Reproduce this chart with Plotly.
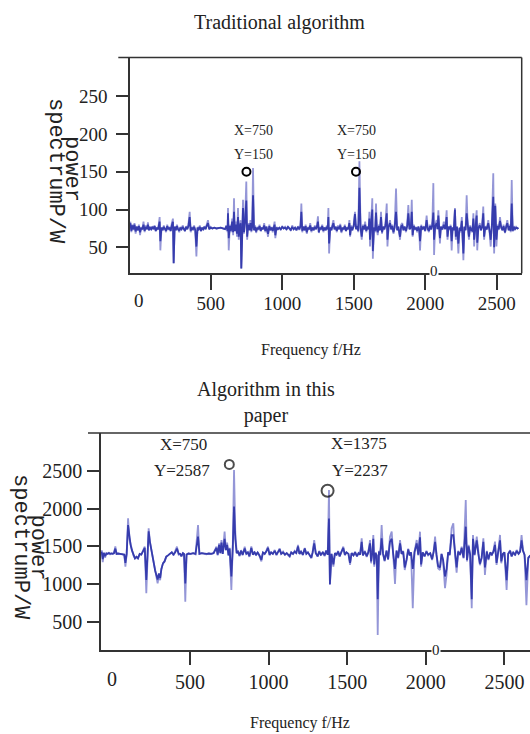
import plotly.graph_objects as go

# ---------------- data: traditional algorithm ----------------
trad_freq = [
    -62, -55, -48, -40, -33, -25, -18, -10, -2, 6, 14, 22, 30, 38, 46, 54, 61, 68, 76, 84,
    92, 100, 108, 116, 124, 132, 143, 148, 156, 164, 172, 180, 188, 196, 204, 212, 220, 228, 236, 241,
    248, 256, 264, 272, 280, 288, 296, 304, 312, 320, 328, 336, 344, 353, 360, 368, 376, 384, 392, 400,
    408, 416, 424, 432, 440, 448, 456, 464, 472, 481, 490, 500, 512, 525, 540, 555, 570, 585, 600, 610,
    618, 621, 626, 634, 642, 650, 657, 663, 668, 676, 684, 691, 696, 703, 709, 714, 720, 726, 733, 741,
    749, 755, 762, 770, 778, 784, 790, 796, 803, 810, 818, 826, 834, 842, 850, 858, 866, 874, 882, 890,
    901, 910, 918, 926, 934, 941, 947, 952, 960, 970, 980, 990, 1000, 1010, 1020, 1030, 1040, 1050, 1060, 1070,
    1080, 1090, 1100, 1110, 1120, 1128, 1134, 1140, 1148, 1156, 1164, 1172, 1180, 1188, 1196, 1204, 1212, 1220, 1228, 1236,
    1244, 1250, 1256, 1264, 1272, 1280, 1288, 1296, 1304, 1312, 1318, 1323, 1328, 1336, 1344, 1351, 1358, 1366, 1374, 1382,
    1390, 1398, 1406, 1414, 1422, 1430, 1438, 1446, 1454, 1462, 1470, 1475, 1482, 1490, 1500, 1509, 1516, 1524, 1532, 1540,
    1548, 1556, 1564, 1572, 1580, 1588, 1596, 1604, 1610, 1614, 1622, 1630, 1634, 1642, 1650, 1656, 1662, 1668, 1676, 1684,
    1691, 1698, 1706, 1714, 1722, 1731, 1736, 1744, 1754, 1762, 1770, 1778, 1786, 1796, 1804, 1812, 1824, 1832, 1840, 1848,
    1856, 1866, 1874, 1882, 1890, 1899, 1906, 1912, 1920, 1928, 1936, 1944, 1952, 1958, 1964, 1972, 1980, 1990, 2000, 2010,
    2018, 2026, 2034, 2042, 2050, 2057, 2062, 2070, 2080, 2086, 2092, 2098, 2103, 2110, 2120, 2130, 2140, 2150, 2156, 2164,
    2172, 2178, 2185, 2192, 2200, 2208, 2214, 2222, 2232, 2240, 2248, 2256, 2267, 2274, 2282, 2290, 2298, 2306, 2314, 2322,
    2330, 2337, 2342, 2350, 2360, 2364, 2372, 2382, 2390, 2398, 2406, 2412, 2420, 2430, 2441, 2450, 2458, 2466, 2476, 2482,
    2490, 2498, 2506, 2514, 2523, 2532, 2540, 2548, 2558, 2566, 2574, 2584, 2592, 2598, 2605, 2612, 2620, 2628, 2636, 2645,
    2652,
]
# full extent of each sample (light trace)
trad_peak = [
    84, 70, 80, 73, 82, 68, 78, 72, 80, 66, 77, 73, 84, 70, 79, 74, 83, 72, 77, 73,
    78, 74, 79, 71, 76, 73, 90, 46, 76, 72, 79, 74, 70, 80, 73, 77, 71, 82, 88, 29,
    78, 72, 80, 74, 70, 77, 73, 79, 75, 71, 78, 74, 80, 97, 70, 77, 73, 79, 72, 38,
    77, 73, 79, 71, 76, 73, 78, 74, 80, 86, 74, 77, 75, 76, 75, 76, 76, 75, 74, 79,
    70, 102, 46, 80, 70, 88, 66, 115, 71, 84, 64, 102, 60, 80, 86, 22, 86, 113, 68, 90,
    137, 60, 82, 72, 86, 70, 78, 155, 72, 79, 69, 77, 73, 80, 71, 76, 74, 82, 70, 78,
    64, 80, 72, 77, 70, 76, 84, 62, 77, 74, 76, 73, 78, 75, 77, 73, 78, 75, 72, 79,
    74, 76, 72, 78, 73, 80, 108, 70, 78, 72, 80, 68, 77, 73, 82, 70, 76, 72, 79, 74,
    80, 91, 69, 77, 73, 80, 70, 76, 72, 79, 74, 102, 42, 77, 72, 80, 86, 73, 78, 70,
    79, 74, 81, 69, 76, 73, 80, 71, 77, 74, 86, 64, 79, 72, 80, 97, 74, 80, 70, 164,
    76, 60, 80, 73, 84, 70, 78, 74, 97, 51, 80, 115, 35, 77, 70, 108, 74, 66, 80, 72,
    97, 68, 78, 73, 82, 108, 51, 78, 86, 73, 80, 68, 77, 128, 72, 78, 60, 80, 82, 72,
    78, 70, 80, 106, 74, 76, 113, 64, 80, 73, 77, 70, 78, 74, 46, 80, 73, 78, 71, 92,
    74, 70, 80, 73, 84, 135, 40, 80, 86, 74, 99, 70, 55, 78, 73, 84, 74, 99, 60, 78,
    73, 80, 46, 77, 72, 102, 60, 78, 42, 76, 70, 90, 33, 78, 72, 119, 74, 60, 79, 72,
    70, 95, 51, 78, 99, 46, 77, 82, 72, 79, 104, 60, 78, 73, 86, 70, 51, 80, 148, 42,
    108, 51, 80, 73, 90, 76, 72, 80, 69, 78, 86, 72, 80, 70, 139, 71, 78, 74, 77, 75,
    76,
]
# dense core of each sample (dark trace)
trad_core = [
    82, 72, 79, 74, 80, 71, 77, 73, 78, 70, 76, 74, 80, 72, 77, 74, 80, 73, 76, 74,
    77, 74, 78, 72, 76, 74, 84, 58, 76, 73, 77, 74, 72, 78, 74, 76, 72, 79, 84, 29,
    77, 73, 78, 74, 72, 76, 74, 77, 75, 72, 77, 74, 78, 90, 72, 76, 74, 77, 73, 51,
    76, 74, 77, 72, 76, 74, 77, 74, 78, 82, 74, 76, 75, 76, 75, 76, 76, 75, 74, 78,
    72, 95, 62, 78, 72, 84, 70, 97, 72, 80, 68, 90, 64, 78, 82, 22, 82, 102, 70, 84,
    112, 64, 80, 73, 82, 72, 77, 119, 73, 77, 71, 76, 74, 78, 72, 76, 74, 79, 72, 77,
    68, 78, 73, 76, 72, 76, 80, 66, 76, 74, 76, 74, 77, 75, 76, 74, 77, 75, 73, 77,
    74, 76, 73, 77, 74, 78, 97, 72, 77, 73, 78, 70, 76, 74, 79, 72, 76, 73, 77, 74,
    78, 84, 70, 76, 74, 78, 72, 76, 73, 77, 74, 90, 55, 76, 73, 78, 82, 74, 77, 72,
    77, 74, 79, 71, 76, 74, 78, 72, 76, 74, 82, 66, 77, 73, 78, 94, 74, 78, 72, 129,
    76, 64, 78, 74, 80, 72, 77, 74, 88, 60, 78, 100, 45, 76, 72, 96, 74, 70, 78, 73,
    90, 70, 77, 74, 79, 95, 60, 77, 82, 74, 78, 70, 76, 97, 73, 77, 64, 78, 79, 73,
    77, 72, 78, 95, 74, 76, 97, 66, 78, 74, 76, 72, 77, 74, 58, 78, 74, 77, 72, 86,
    74, 72, 78, 74, 80, 96, 60, 78, 82, 74, 92, 72, 62, 77, 74, 80, 74, 90, 64, 77,
    74, 78, 58, 76, 73, 100, 64, 77, 55, 76, 72, 85, 42, 77, 73, 95, 74, 64, 77, 73,
    72, 88, 60, 77, 92, 56, 76, 79, 73, 77, 95, 64, 77, 74, 82, 72, 60, 78, 117, 50,
    105, 60, 78, 74, 85, 76, 73, 78, 70, 77, 82, 73, 78, 72, 108, 72, 77, 74, 76, 75,
    76,
]

# ---------------- data: algorithm in this paper ----------------
prop_freq = [
    -62, -55, -48, -40, -32, -24, -16, -8, 0, 8, 16, 25, 33, 42, 55, 70, 82, 89, 97, 106,
    114, 122, 130, 140, 150, 160, 169, 180, 190, 200, 212, 222, 230, 237, 245, 254, 262, 270, 278, 286,
    294, 302, 310, 318, 328, 338, 349, 360, 372, 384, 395, 406, 417, 428, 437, 445, 455, 462, 470, 478,
    490, 505, 520, 535, 551, 560, 575, 590, 605, 620, 635, 650, 668, 676, 685, 693, 700, 708, 715, 720,
    728, 736, 745, 752, 763, 772, 780, 788, 797, 805, 815, 825, 835, 848, 858, 868, 878, 890, 900, 910,
    920, 930, 942, 954, 964, 975, 985, 996, 1006, 1016, 1027, 1039, 1050, 1060, 1070, 1080, 1092, 1104, 1115, 1125,
    1134, 1144, 1155, 1166, 1176, 1187, 1196, 1206, 1218, 1230, 1240, 1250, 1262, 1272, 1280, 1290, 1300, 1312, 1322, 1332,
    1345, 1356, 1366, 1376, 1384, 1390, 1400, 1412, 1422, 1432, 1442, 1452, 1462, 1475, 1485, 1495, 1508, 1518, 1528, 1540,
    1550, 1562, 1572, 1582, 1592, 1600, 1612, 1624, 1634, 1645, 1652, 1660, 1666, 1672, 1680, 1688, 1694, 1702, 1710, 1719,
    1728, 1738, 1750, 1760, 1772, 1783, 1792, 1804, 1814, 1824, 1836, 1846, 1856, 1866, 1878, 1888, 1898, 1906, 1917, 1928,
    1942, 1952, 1963, 1970, 1980, 1992, 2004, 2015, 2028, 2040, 2050, 2059, 2068, 2078, 2090, 2100, 2110, 2122, 2132, 2142,
    2152, 2164, 2175, 2185, 2196, 2206, 2218, 2228, 2240, 2254, 2262, 2272, 2282, 2292, 2300, 2310, 2324, 2334, 2344, 2355,
    2366, 2376, 2388, 2398, 2410, 2420, 2430, 2440, 2450, 2460, 2472, 2480, 2490, 2500, 2514, 2524, 2536, 2546, 2556, 2568,
    2578, 2590, 2600, 2609, 2618, 2628, 2640, 2652, 2665,
]
prop_peak = [
    1450, 1290, 1420, 1350, 1410, 1400, 1415, 1395, 1405, 1400, 1410, 1500, 1400, 1405, 1400, 1395, 1380, 1230, 1400, 1872,
    1600, 1520, 1450, 1380, 1340, 1360, 1340, 1400, 1390, 1440, 1496, 877, 1380, 1739, 1560, 1450, 1370, 1250, 1150, 1080,
    1009, 1120, 1050, 1200, 1275, 1300, 1363, 1380, 1400, 1420, 1380, 1430, 1496, 1390, 1400, 1363, 1410, 1400, 766, 1390,
    1405, 1400, 1410, 1395, 1783, 1400, 1410, 1400, 1395, 1405, 1400, 1410, 1496, 1380, 1540, 1410, 1584, 1400, 1630, 1695,
    1450, 1550, 1380, 1480, 920, 1500, 2513, 1695, 1410, 1440, 1370, 1450, 1380, 1496, 1400, 1420, 1360, 1500, 1390, 1430,
    1380, 1420, 1370, 1300, 1420, 1400, 1440, 1496, 1380, 1420, 1400, 1452, 1380, 1420, 1475, 1400, 1430, 1390, 1410, 1380,
    1363, 1420, 1400, 1440, 1410, 1520, 1400, 1430, 1380, 1480, 1400, 1420, 1380, 1341, 1420, 1584, 1410, 1363, 1440, 1380,
    1420, 1370, 1450, 1390, 2248, 987, 1400, 1231, 1410, 1380, 1440, 1363, 1420, 1496, 1380, 1420, 1400, 1253, 1410, 1380,
    1430, 1363, 1410, 1390, 1607, 1380, 1440, 1360, 1420, 1584, 1275, 1430, 1651, 1231, 1420, 1380, 324, 1440, 1380, 1783,
    1400, 1300, 1450, 1320, 1629, 1695, 1410, 1000, 1450, 1340, 1584, 1400, 1440, 1186, 1319, 1470, 1380, 1420, 678, 1430,
    1584, 1380, 1695, 1231, 1420, 1363, 1440, 1380, 1410, 1319, 1440, 1629, 1380, 1208, 1186, 1400, 1300, 946, 1120, 1420,
    1380, 1740, 1806, 1400, 1150, 1440, 1380, 1496, 1340, 2115, 1300, 1520, 1380, 678, 1651, 1380, 1629, 1400, 1250, 1341,
    1607, 1120, 1440, 1319, 1420, 1380, 1440, 1562, 1253, 1420, 1651, 1275, 1400, 1420, 921, 1400, 1450, 1363, 1420, 1380,
    1452, 1400, 1440, 1651, 1452, 1380, 720, 1340, 1380,
]
prop_core = [
    1430, 1330, 1410, 1370, 1405, 1400, 1410, 1400, 1405, 1400, 1408, 1470, 1400, 1405, 1400, 1400, 1390, 1280, 1400, 1783,
    1600, 1520, 1450, 1380, 1340, 1360, 1340, 1400, 1390, 1430, 1480, 1054, 1380, 1700, 1560, 1450, 1370, 1250, 1180, 1120,
    1060, 1140, 1080, 1200, 1275, 1300, 1363, 1380, 1400, 1420, 1390, 1420, 1470, 1400, 1400, 1370, 1410, 1400, 1009, 1390,
    1405, 1400, 1410, 1400, 1629, 1400, 1410, 1400, 1400, 1405, 1400, 1410, 1480, 1390, 1520, 1410, 1550, 1400, 1580, 1600,
    1450, 1520, 1380, 1470, 1100, 1480, 2027, 1600, 1410, 1430, 1380, 1440, 1390, 1470, 1400, 1420, 1370, 1480, 1390, 1420,
    1390, 1420, 1380, 1320, 1420, 1400, 1430, 1480, 1390, 1420, 1400, 1440, 1390, 1420, 1460, 1400, 1420, 1390, 1410, 1390,
    1370, 1420, 1400, 1430, 1410, 1500, 1400, 1430, 1390, 1470, 1400, 1420, 1390, 1350, 1420, 1540, 1410, 1370, 1430, 1390,
    1420, 1380, 1440, 1390, 1870, 1000, 1400, 1260, 1410, 1390, 1430, 1370, 1420, 1480, 1390, 1420, 1400, 1280, 1410, 1380,
    1420, 1370, 1410, 1390, 1560, 1380, 1430, 1370, 1420, 1540, 1300, 1420, 1600, 1260, 1410, 1380, 800, 1430, 1390, 1607,
    1400, 1310, 1440, 1330, 1560, 1600, 1410, 1200, 1440, 1350, 1540, 1400, 1430, 1220, 1330, 1460, 1380, 1420, 1200, 1420,
    1540, 1390, 1620, 1260, 1420, 1370, 1430, 1390, 1410, 1330, 1430, 1560, 1390, 1240, 1220, 1400, 1320, 1100, 1200, 1420,
    1390, 1650, 1650, 1400, 1220, 1430, 1390, 1480, 1350, 1761, 1320, 1500, 1390, 800, 1600, 1390, 1580, 1400, 1270, 1350,
    1560, 1220, 1430, 1330, 1420, 1390, 1430, 1520, 1280, 1420, 1580, 1300, 1400, 1420, 1050, 1400, 1440, 1370, 1420, 1390,
    1440, 1400, 1430, 1580, 1440, 1390, 1050, 1350, 1380,
]

# picked points shown with data tips
trad_pick_x = [750, 1516]
trad_pick_y = [150, 150]
prop_pick_x = [750, 1375]
prop_pick_y = [2587, 2237]

trad_ticks = [500, 1000, 1500, 2000, 2500]
trad_yticks = [50, 100, 150, 200, 250]
prop_ticks = [500, 1000, 1500, 2000, 2500]
prop_yticks = [500, 1000, 1500, 2000, 2500]

# ---------------- figure ----------------
W, H = 530, 734
def fx(p):
    return p / W
def fy(p):
    return 1 - p / H

LIGHT = "rgba(118,120,204,0.78)"
DARK = "#363cad"
AX = "#333333"
SERIF = "Liberation Serif"
MONO = "Liberation Mono"

fig = go.Figure()
fig.add_trace(go.Scatter(x=trad_freq, y=trad_peak, mode="lines",
                         line=dict(color=LIGHT, width=1.8), xaxis="x", yaxis="y"))
fig.add_trace(go.Scatter(x=trad_freq, y=trad_core, mode="lines",
                         line=dict(color=DARK, width=1.8), xaxis="x", yaxis="y"))
fig.add_trace(go.Scatter(x=trad_pick_x, y=trad_pick_y, mode="markers",
                         marker=dict(symbol="circle-open", size=8, color="black",
                                     line=dict(width=2, color="black")),
                         xaxis="x", yaxis="y"))
fig.add_trace(go.Scatter(x=prop_freq, y=prop_peak, mode="lines",
                         line=dict(color=LIGHT, width=1.8), xaxis="x2", yaxis="y2"))
fig.add_trace(go.Scatter(x=prop_freq, y=prop_core, mode="lines",
                         line=dict(color=DARK, width=1.8), xaxis="x2", yaxis="y2"))
fig.add_trace(go.Scatter(x=prop_pick_x, y=prop_pick_y, mode="markers",
                         marker=dict(symbol="circle-open", size=[9, 12], color="black",
                                     line=dict(width=2, color="black")),
                         xaxis="x2", yaxis="y2"))

axis_common = dict(showgrid=False, zeroline=False, showline=True, linecolor=AX,
                   linewidth=1.5, ticks="outside", tickcolor=AX, tickwidth=1.5)

fig.update_layout(
    width=W, height=H, margin=dict(l=0, r=0, t=0, b=0),
    paper_bgcolor="white", plot_bgcolor="white", showlegend=False,
    xaxis=dict(domain=[fx(130), fx(521.7)], range=[-64.3, 2674.8], anchor="y",
               tickvals=trad_ticks, ticklen=15, ticklabelstandoff=-3,
               tickfont=dict(family=SERIF, size=19, color="#222"), **axis_common),
    yaxis=dict(domain=[fy(273.3), fy(57.5)], range=[15.6, 301.4], anchor="x",
               tickvals=trad_yticks, ticklen=12, ticklabelstandoff=5,
               tickfont=dict(family=SERIF, size=19, color="#222"), **axis_common),
    xaxis2=dict(domain=[fx(101), 1.0], range=[-66.2, 2662.7], anchor="y2",
                tickvals=prop_ticks, ticklen=14,
                tickfont=dict(family=SERIF, size=20, color="#222"), **axis_common),
    yaxis2=dict(domain=[fy(649.5), fy(433)], range=[131.4, 3004], anchor="x2",
                tickvals=prop_yticks, ticklen=12, ticklabelstandoff=1,
                tickfont=dict(family=SERIF, size=20, color="#222"), **axis_common),
)

# frame lines above and to the right of the plots
shapes = [
    dict(type="line", xref="paper", yref="paper", x0=fx(118.3), x1=fx(521.7),
         y0=fy(57.5), y1=fy(57.5), line=dict(color=AX, width=1.5)),
    dict(type="line", xref="paper", yref="paper", x0=fx(521.7), x1=fx(521.7),
         y0=fy(57.5), y1=fy(273.3), line=dict(color=AX, width=1.5)),
    dict(type="line", xref="paper", yref="paper", x0=fx(88), x1=1.0,
         y0=fy(433), y1=fy(433), line=dict(color=AX, width=1.5)),
]
fig.update_layout(shapes=shapes)

def note(text, x, y, size, family=SERIF, angle=0, bg=None):
    d = dict(text=text, x=fx(x), y=fy(y), xref="paper", yref="paper",
             showarrow=False, xanchor="center", yanchor="middle",
             textangle=angle, font=dict(family=family, size=size, color="#222"))
    if bg:
        d["bgcolor"] = bg
        d["borderpad"] = 0
    return d

annotations = [
    note("Traditional algorithm", 279, 22, 20),
    note("X=750", 253, 130, 14), note("Y=150", 253.5, 154.3, 14),
    note("X=750", 356, 130, 14), note("Y=150", 356, 154.3, 14),
    note("power", 72, 169, 22, MONO, 90),
    note("spectrumP/W", 55.5, 170.5, 22, MONO, 90),
    note("0", 139.2, 300, 19),
    note("0", 434, 271, 15, bg="white"),
    note("Frequency f/Hz", 311, 350, 16),
    note("Algorithm in this<br>paper", 265.5, 402.5, 20),
    note("X=750", 183, 444.4, 17), note("Y=2587", 182, 470, 17),
    note("X=1375", 359, 443, 17), note("Y=2237", 360, 470.7, 17),
    note("power", 37, 547.5, 22, MONO, 90),
    note("spectrumP/W", 20.5, 546.6, 22, MONO, 90),
    note("0", 111.7, 679, 20),
    note("0", 435.7, 650, 15, bg="white"),
    note("Frequency f/Hz", 299.5, 723, 16),
]
fig.update_layout(annotations=annotations)

fig.write_html("out.html")
